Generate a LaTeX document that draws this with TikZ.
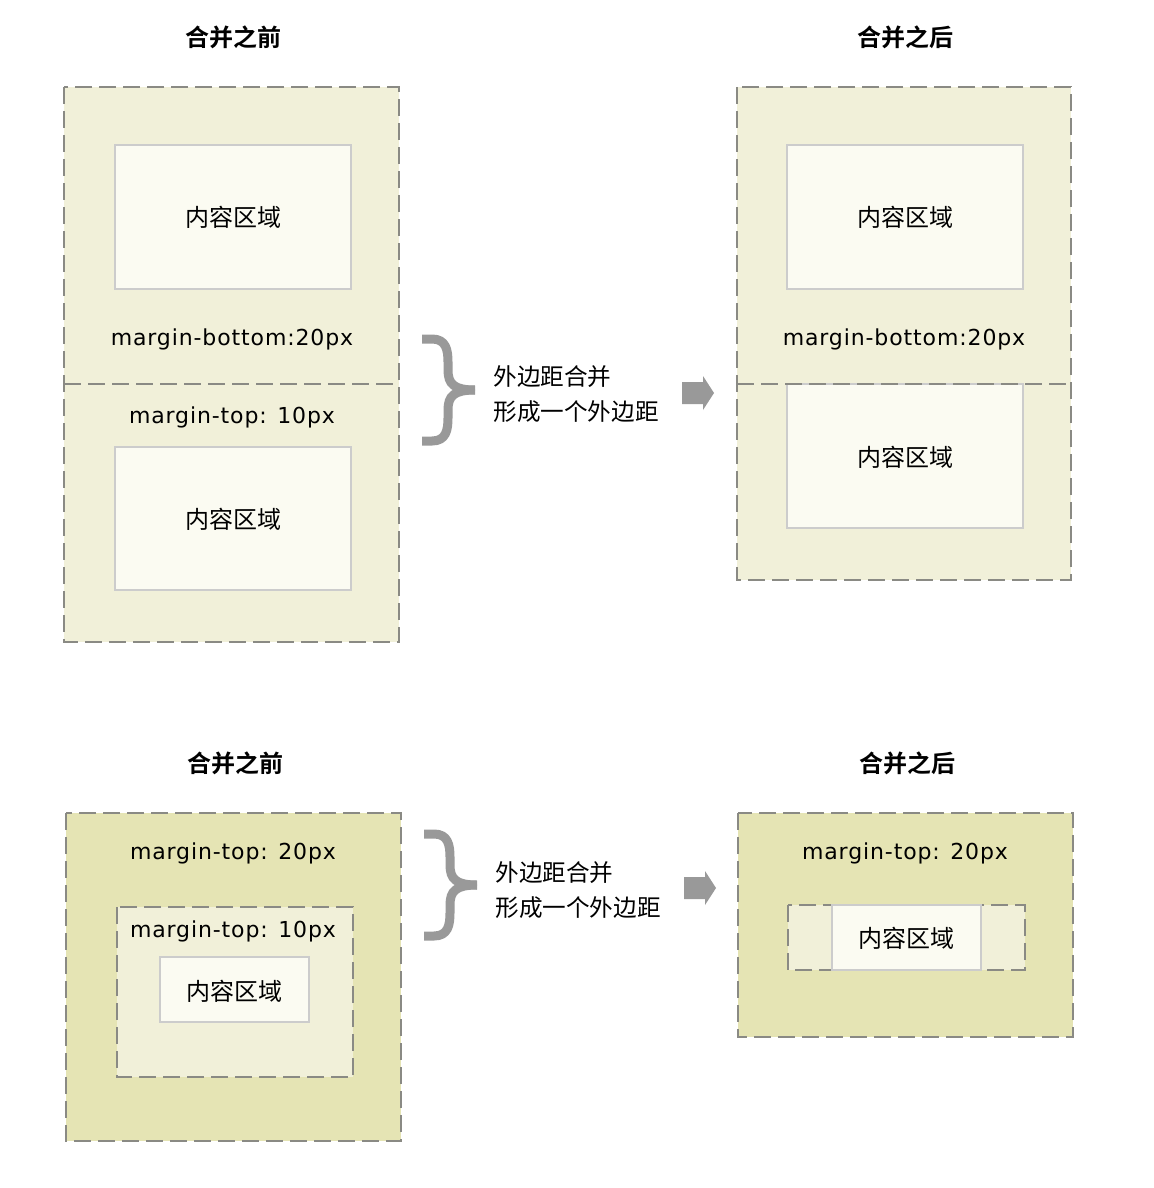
\documentclass[tikz,border=0pt]{standalone}
\usepackage{fontspec}
\setmainfont{DejaVu Sans}
\newfontfamily\cjk{Noto Sans CJK SC}[BoldFont={Noto Sans CJK SC Bold}]
\definecolor{boxline}{HTML}{8A8A84}
\definecolor{paleyellow}{HTML}{F1F0D9}
\definecolor{khaki}{HTML}{E5E4B4}
\definecolor{contentfill}{HTML}{FBFBF2}
\definecolor{contentline}{HTML}{CCCCCC}
\definecolor{markgray}{HTML}{999999}
\tikzset{
  marginbox/.style={draw=boxline, line width=1pt, dash pattern=on 8.5pt off 3.5pt},
  contentbox/.style={draw=contentline, fill=contentfill, line width=1pt},
  divider/.style={draw=boxline, line width=1pt, dash pattern=on 8.5pt off 3.5pt},
  cjktext/.style={font=\cjk\fontsize{12pt}{14pt}\selectfont, inner sep=0pt},
  titletext/.style={font=\cjk\bfseries\fontsize{12pt}{14pt}\selectfont, inner sep=0pt},
  csstext/.style={font=\fontsize{11pt}{13pt}\selectfont\addfontfeature{LetterSpace=4}, inner sep=0pt},
  notetext/.style={font=\cjk\fontsize{11.8pt}{14pt}\selectfont, inner sep=0pt, anchor=west},
  bracestroke/.style={draw=markgray, line width=4.5pt},
  arrowfill/.style={fill=markgray, draw=none}
}
% Curly brace drawn as one thick stroke
\newcommand{\mergebrace}{%
  \draw[bracestroke] (422,339) -- (432,339)
    .. controls (446,339) and (448,350) .. (448,362)
    -- (448,370)
    .. controls (448,384) and (454,390) .. (475,390);
  \draw[bracestroke] (422,441) -- (432,441)
    .. controls (446,441) and (448,430) .. (448,418)
    -- (448,410)
    .. controls (448,396) and (454,390) .. (475,390);
}
% Block arrow pointing right
\newcommand{\mergearrow}{%
  \fill[arrowfill] (682,382) -- (703,382) -- (703,376) -- (714,393)
    -- (703,410) -- (703,404) -- (682,404) -- cycle;
}
\begin{document}
\begin{tikzpicture}[x=0.5pt, y=-0.5pt]
\useasboundingbox[fill=white] (0,0) rectangle (1154,1188);

% ---------- upper row: sibling margins ----------
\node[titletext] (t1) at (233,37) {合并之前};
\node[titletext] (t2) at (905,37) {合并之后};

% before
\path[marginbox, fill=paleyellow] (64,87) rectangle (399,642);
\path[contentbox] (115,145) rectangle (351,289);
\path[contentbox] (115,447) rectangle (351,590);
\path[divider] (64,384) -- (399,384);
\node[cjktext] (c1) at (233,217) {内容区域};
\node[cjktext] (c2) at (233,519) {内容区域};
\node[csstext] (mb1) at (232,339) {margin-bottom:20px};
\node[csstext] (mt1) at (232,417) {margin-top: 10px};

% brace, note and arrow
\mergebrace
\node[notetext] (n1) at (493,377) {外边距合并};
\node[notetext] (n2) at (493,412) {形成一个外边距};
\mergearrow

% after
\path[marginbox, fill=paleyellow] (737,87) rectangle (1071,580);
\path[contentbox] (787,145) rectangle (1023,289);
\path[contentbox] (787,384) rectangle (1023,528);
\path[divider] (737,384) -- (1071,384);
\node[cjktext] (c3) at (905,217) {内容区域};
\node[cjktext] (c4) at (905,457) {内容区域};
\node[csstext] (mb2) at (904,339) {margin-bottom:20px};

% ---------- lower row: nested margins ----------
\node[titletext] (t3) at (235,763) {合并之前};
\node[titletext] (t4) at (907,763) {合并之后};

% before
\path[marginbox, fill=khaki] (66,813) rectangle (401,1141);
\path[marginbox, fill=paleyellow] (117,907) rectangle (353,1077);
\path[contentbox] (160,957) rectangle (309,1022);
\node[csstext] (mt2) at (233,853) {margin-top: 20px};
\node[csstext] (mt3) at (233,931) {margin-top: 10px};
\node[cjktext] (c5) at (234.5,991) {内容区域};

\begin{scope}[shift={(2,495)}]
  \mergebrace
  \mergearrow
\end{scope}
\node[notetext] (n3) at (495,873) {外边距合并};
\node[notetext] (n4) at (495,908) {形成一个外边距};

% after
\path[marginbox, fill=khaki] (738,813) rectangle (1073,1037);
\path[marginbox, fill=paleyellow] (788,905) rectangle (1025,970);
\path[contentbox] (832,905) rectangle (981,970);
\node[csstext] (mt4) at (905,853) {margin-top: 20px};
\node[cjktext] (c6) at (906.5,938) {内容区域};
\end{tikzpicture}
\end{document}
